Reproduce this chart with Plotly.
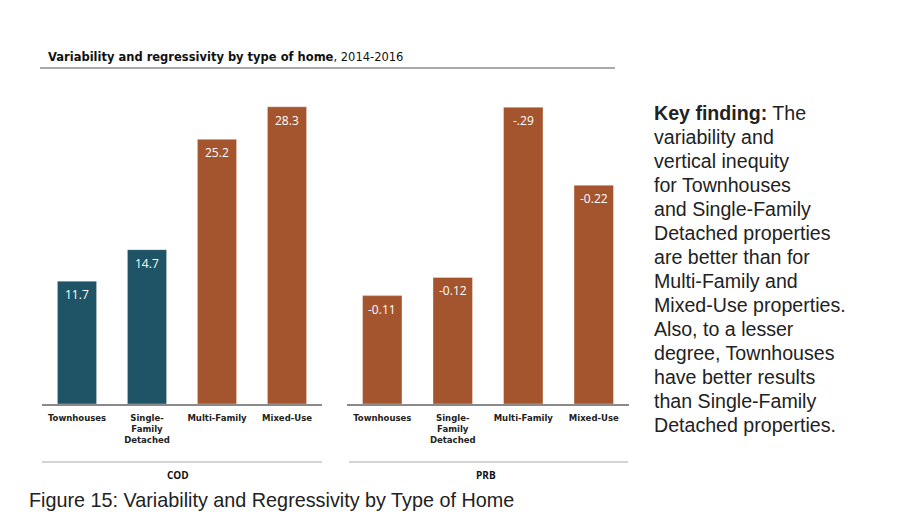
import plotly.graph_objects as go

categories = ["Townhouses", "Single-<br>Family<br>Detached", "Multi-Family", "Mixed-Use"]
cod_values = [11.7, 14.7, 25.2, 28.3]
cod_labels = ["11.7", "14.7", "25.2", "28.3"]
prb_values = [-0.107, -0.125, -0.293, -0.216]
prb_labels = ["-0.11", "-0.12", "-.29", "-0.22"]
key_lines = ["<b>Key finding:</b> The", "variability and", "vertical inequity", "for Townhouses",
             "and Single-Family", "Detached properties", "are better than for", "Multi-Family and",
             "Mixed-Use properties.", "Also, to a lesser", "degree, Townhouses", "have better results",
             "than Single-Family", "Detached properties."]
teal = "#1F5366"
rust = "#A5552E"
cod_colors = [teal, teal, rust, rust]
prb_colors = [rust, rust, rust, rust]

W, H = 912, 524
OFF = 8  # page body margin
def px(x): return (x - OFF) / W
def py(y): return 1 - (y - OFF) / H

fig = go.Figure()
fig.add_trace(go.Bar(
    x=categories, y=cod_values, xaxis="x", yaxis="y",
    marker=dict(color=cod_colors, line=dict(color="rgba(255,255,255,0.35)", width=1)),
    hoverinfo="skip"))
fig.add_trace(go.Bar(
    x=categories, y=[-v for v in prb_values], xaxis="x2", yaxis="y2",
    marker=dict(color=prb_colors, line=dict(color="rgba(255,255,255,0.35)", width=1)),
    hoverinfo="skip"))

ydom = [py(404), py(90)]
tickfont = dict(family="DejaVu Sans", size=8.5, color="#222", weight="bold")
fig.update_layout(
    width=W, height=H, margin=dict(l=0, r=0, t=0, b=0),
    paper_bgcolor="white", plot_bgcolor="white", showlegend=False,
    bargap=0.44,
    xaxis=dict(domain=[px(42), px(322)], showline=True, linecolor="#8a8a8a", linewidth=1.5,
               ticks="", tickfont=tickfont, showgrid=False, anchor="y", ticklabelstandoff=5),
    yaxis=dict(domain=ydom, range=[0, 29.9], visible=False, showgrid=False, anchor="x"),
    xaxis2=dict(domain=[px(347), px(629)], showline=True, linecolor="#8a8a8a", linewidth=1.5,
                ticks="", tickfont=tickfont, showgrid=False, anchor="y2", ticklabelstandoff=5),
    yaxis2=dict(domain=ydom, range=[0, 0.31], visible=False, showgrid=False, anchor="x2"),
)

shapes = [
    dict(type="line", xref="paper", yref="paper", x0=px(40), x1=px(615), y0=py(68), y1=py(68),
         line=dict(color="#555", width=1)),
    dict(type="line", xref="paper", yref="paper", x0=px(42), x1=px(322), y0=py(462), y1=py(462),
         line=dict(color="#aaa", width=1.2)),
    dict(type="line", xref="paper", yref="paper", x0=px(349), x1=px(628), y0=py(462), y1=py(462),
         line=dict(color="#aaa", width=1.2)),
]
fig.update_layout(shapes=shapes)

anns = [
    dict(text="<b>Variability and regressivity by type of home</b>, 2014-2016",
         x=px(46), y=py(57), xref="paper", yref="paper", xanchor="left", yanchor="middle",
         font=dict(family="DejaVu Sans", size=11.5, color="#111")),
    dict(text="<b>COD</b>", x=px(178), y=py(475), xref="paper", yref="paper",
         xanchor="center", yanchor="middle",
         font=dict(family="Open Sans", size=10, color="#111")),
    dict(text="<b>PRB</b>", x=px(486), y=py(475), xref="paper", yref="paper",
         xanchor="center", yanchor="middle",
         font=dict(family="Open Sans", size=10, color="#111")),
    dict(text="Figure 15: Variability and Regressivity by Type of Home",
         x=px(27), y=py(500), xref="paper", yref="paper", xanchor="left", yanchor="middle",
         font=dict(family="Liberation Sans", size=19.8, color="#222")),
]
for i, line in enumerate(key_lines):
    anns.append(dict(text=line, x=px(652), y=py(113 + 24 * i), xref="paper", yref="paper",
                     xanchor="left", yanchor="middle",
                     font=dict(family="Liberation Sans", size=19.6, color="#222")))
for cat, v, lab in zip(categories, cod_values, cod_labels):
    anns.append(dict(text=lab, x=cat, y=v, xref="x", yref="y", xanchor="center", yanchor="top",
                     yshift=-3, font=dict(family="Open Sans", size=12, color="white")))
for cat, v, lab in zip(categories, prb_values, prb_labels):
    anns.append(dict(text=lab, x=cat, y=-v, xref="x2", yref="y2", xanchor="center", yanchor="top",
                     yshift=-3, font=dict(family="Open Sans", size=12, color="white")))
for a in anns:
    a.update(showarrow=False)
fig.update_layout(annotations=anns)

fig.write_html("out.html")
